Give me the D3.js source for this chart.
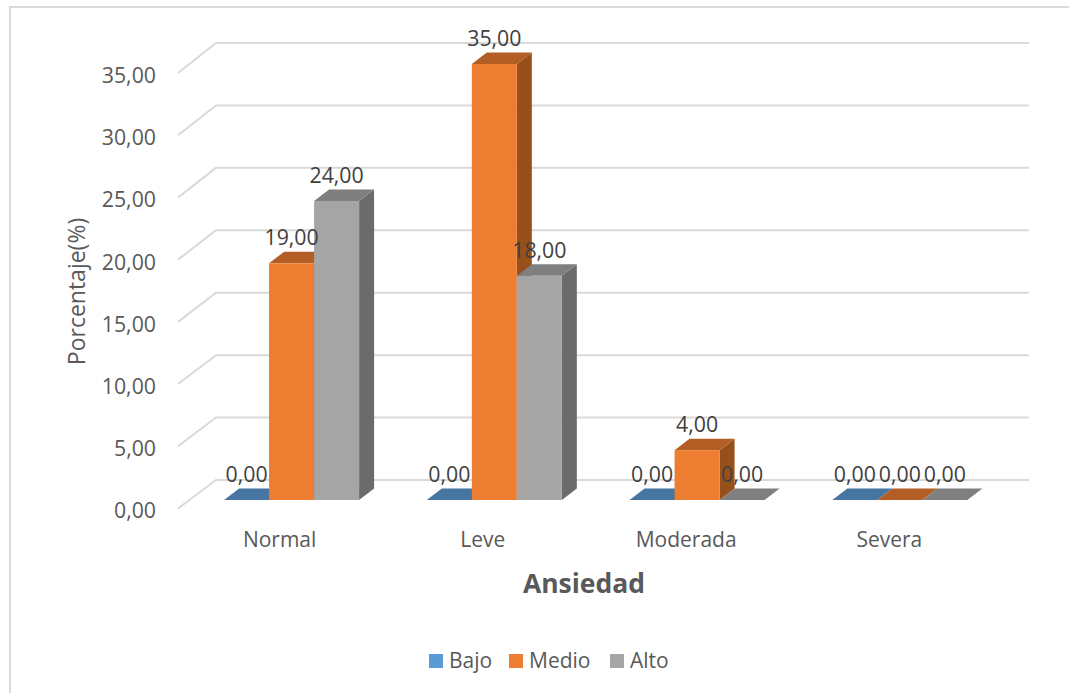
<!DOCTYPE html>
<html>
<head>
<meta charset="utf-8">
<script src="https://cdn.jsdelivr.net/npm/d3@7"></script>
<style>
  html, body { margin: 0; padding: 0; background: #fff; }
  svg { display: block; font-family: "Open Sans", sans-serif; }
</style>
</head>
<body>
<svg id="chart" width="1069" height="693"></svg>
<script>
const categories = ["Normal", "Leve", "Moderada", "Severa"];
const bajo = [0, 0, 0, 0];
const medio = [19, 35, 4, 0];
const alto = [24, 18, 0, 0];
const yTicks = [0, 5, 10, 15, 20, 25, 30, 35];
const seriesNames = ["Bajo", "Medio", "Alto"];

const fmt = (v) => v.toFixed(2).replace(".", ",");
const svg = d3.select("#chart");

const colors = {
  Bajo: { front: "#5b9bd5", top: "#4575a0", side: "#3d6c96" },
  Medio: { front: "#ed7d31", top: "#b35e24", side: "#98501b" },
  Alto: { front: "#a5a5a5", top: "#7f7f7f", side: "#6b6b6b" },
};
const depth = { x: 15, y: 11.5 };

// chart frame: only the top and left edges are inside the picture
svg.append("path")
  .attr("fill", "none").attr("stroke", "#d9d9d9").attr("stroke-width", 2)
  .attr("d", "M10,693L10,7L1069,7");

// three y scales: front of the floor, back wall, bar front plane
const yFront = d3.scaleLinear().domain([0, 35]).range([508.5, 73]);
const yBack = d3.scaleLinear().domain([0, 35]).range([480, 43]);
const yBar = d3.scaleLinear().domain([0, 35]).range([500, 64]);

const xAxisBand = d3.scaleBand().domain(categories).range([178, 991]);
const xGroup = d3.scaleBand().domain(categories).range([190.2, 1001.2]).paddingInner(0.334).paddingOuter(0.167);
const xSeries = d3.scaleBand().domain(seriesNames).range([0, xGroup.bandwidth()]);

// gridlines
svg.append("g").selectAll("path").data(yTicks).join("path")
  .attr("fill", "none").attr("stroke", "#d9d9d9").attr("stroke-width", 2)
  .attr("d", (t) => `M178,${yFront(t)}L216,${yBack(t)}L1029,${yBack(t)}`);

// y axis
const yAxis = svg.append("g").attr("transform", "translate(178,0)")
  .call(d3.axisLeft(yFront).tickValues(yTicks).tickFormat(fmt).tickSize(0).tickPadding(22))
  .attr("font-family", null);
yAxis.select(".domain").remove();
yAxis.selectAll("text").attr("font-size", 21.3).attr("fill", "#595959").attr("dy", "0.44em");

// x axis labels
const xAxis = svg.append("g").attr("transform", "translate(0,517)")
  .call(d3.axisBottom(xAxisBand).tickSize(0).tickPadding(15))
  .attr("font-family", null);
xAxis.select(".domain").remove();
xAxis.selectAll("text").attr("font-size", 21).attr("fill", "#595959");

const rows = [];
seriesNames.forEach((name, s) => {
  const values = [bajo, medio, alto][s];
  categories.forEach((cat, i) => {
    rows.push({ name, cat, value: values[i], x: xGroup(cat) + xSeries(name), w: xSeries.bandwidth() });
  });
});

// bars, left to right so neighbours overlap correctly
const bars = svg.append("g").selectAll("g").data(rows).join("g");
bars.append("path")
  .attr("fill", (d) => colors[d.name].side)
  .attr("d", (d) => {
    const r = d.x + d.w, t = yBar(d.value), b = yBar(0);
    return `M${r},${t}L${r + depth.x},${t - depth.y}L${r + depth.x},${b - depth.y}L${r},${b}Z`;
  });
bars.append("path")
  .attr("fill", (d) => colors[d.name].top)
  .attr("d", (d) => {
    const t = yBar(d.value);
    return `M${d.x},${t}L${d.x + depth.x},${t - depth.y}L${d.x + d.w + depth.x},${t - depth.y}L${d.x + d.w},${t}Z`;
  });
bars.append("rect")
  .attr("fill", (d) => colors[d.name].front)
  .attr("x", (d) => d.x).attr("y", (d) => yBar(d.value))
  .attr("width", (d) => d.w).attr("height", (d) => yBar(0) - yBar(d.value));

// data labels
svg.append("g").selectAll("text").data(rows).join("text")
  .attr("x", (d) => d.x + d.w / 2)
  .attr("y", (d) => yBar(d.value) - 18)
  .attr("text-anchor", "middle")
  .attr("font-size", 21.3)
  .attr("fill", "#404040")
  .text((d) => fmt(d.value));

// axis titles
svg.append("text")
  .attr("x", 584).attr("y", 593).attr("text-anchor", "middle")
  .attr("font-size", 26.5).attr("font-weight", 700).attr("fill", "#595959")
  .text("Ansiedad");
svg.append("text")
  .attr("transform", "translate(85,291.5) rotate(-90)").attr("text-anchor", "middle")
  .attr("font-size", 23).attr("fill", "#595959")
  .text("Porcentaje(%)");

// legend
const legendX = d3.scaleOrdinal().domain(seriesNames).range([429, 509, 610]);
const legend = svg.append("g").selectAll("g").data(seriesNames).join("g")
  .attr("transform", (d) => `translate(${legendX(d)},654)`);
legend.append("rect").attr("width", 14).attr("height", 14).attr("fill", (d) => colors[d].front);
legend.append("text").attr("x", 20).attr("y", 13.5)
  .attr("font-size", 21).attr("fill", "#595959").text((d) => d);
</script>
</body>
</html>
